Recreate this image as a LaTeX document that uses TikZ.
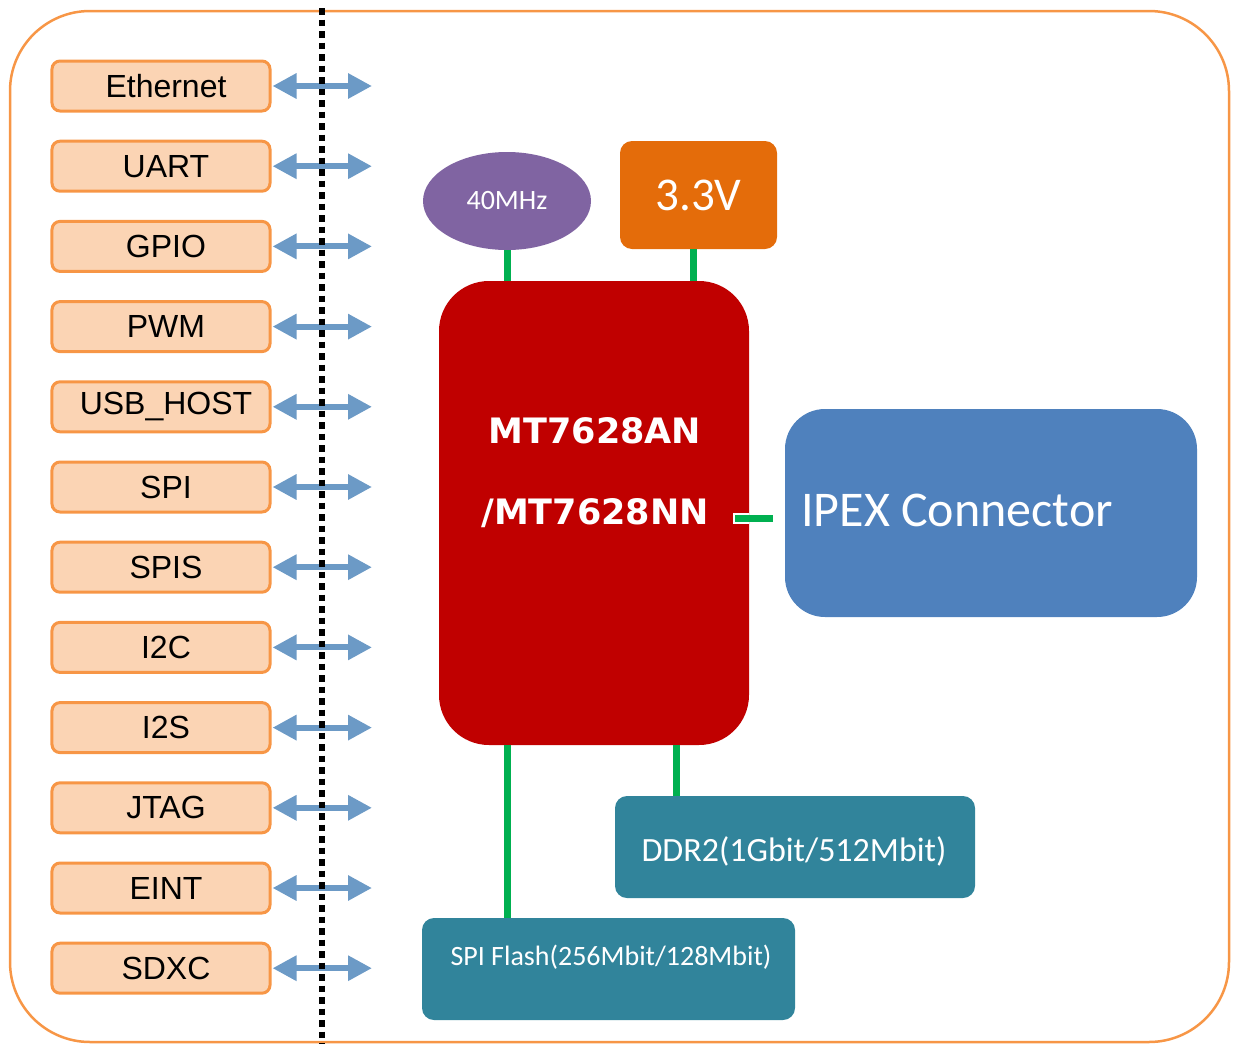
\documentclass[tikz,border=0pt]{standalone}
\usepackage{fontspec}
\setmainfont{Liberation Sans}
\newfontfamily\cali{Carlito}
\newfontfamily\dvs{DejaVu Sans}
\usetikzlibrary{arrows.meta,shapes.geometric}
\definecolor{frameor}{HTML}{F79646}
\definecolor{peach}{HTML}{FBD4B4}
\definecolor{arrblue}{HTML}{6C9AC6}
\definecolor{gline}{HTML}{00B050}
\definecolor{oscpurple}{HTML}{8064A2}
\definecolor{pwrorange}{HTML}{E46C0A}
\definecolor{chipred}{HTML}{C00000}
\definecolor{ipexblue}{HTML}{4F81BD}
\definecolor{memteal}{HTML}{31849B}
\newcommand{\fsz}[1]{\fontsize{#1bp}{#1bp}\selectfont}
\tikzset{
  ifbox/.style={draw=frameor, fill=peach, line width=3bp, rounded corners=8bp,
    minimum width=218bp, minimum height=50bp, inner sep=0pt, font=\fontsize{32bp}{36bp}\selectfont},
  biarrow/.style={draw=arrblue, line width=6bp, {Triangle[length=24bp,width=24bp]}-{Triangle[length=24bp,width=24bp]}, shorten <=1bp},
  gconn/.style={draw=gline, line width=7bp},
  memboxstyle/.style={fill=memteal, rounded corners=12bp, inner sep=0pt, text=white},
}
\begin{document}
\begin{tikzpicture}[x=1bp,y=-1bp]
\useasboundingbox (0,0) rectangle (1233,1044);
% outer frame
\draw[frameor, line width=2.5bp, rounded corners=80bp] (10,11) rectangle (1229,1042);

% interface boxes and arrows
\foreach \lab [count=\i] in {Ethernet,UART,GPIO,PWM,USB\_HOST,SPI,SPIS,I2C,I2S,JTAG,EINT,SDXC}{
  \pgfmathsetmacro{\yy}{86+80.2*(\i-1)}
  \node[ifbox] (if\i) at (161,\yy) {\hspace*{10bp}\lab};
  \coordinate (ae\i) at (372,\yy);
  \draw[biarrow] (if\i.east) -- (ae\i);
}
% dotted separator
\coordinate (dtop) at (322,8);
\coordinate (dbot) at (322,1044);
\draw[black, line width=6.5bp, dash pattern=on 6.5bp off 5bp] (dtop) -- (dbot);

% oscillator
\node[ellipse, fill=oscpurple, minimum width=168bp, minimum height=98bp, inner sep=0pt,
  text=white, font=\cali\fsz{28}] (osc) at (507,201) {40MHz};
% power
\node[fill=pwrorange, rounded corners=12bp, minimum width=157bp, minimum height=108bp,
  inner sep=0pt, text=white, font=\cali\fsz{47}] (pwr) at (698.5,195) {3.3V};
% chip
\node[fill=chipred, rounded corners=50bp, minimum width=310bp, minimum height=464bp, inner sep=0pt] (chip) at (594,513) {};
\node[text=white, align=center, font=\dvs\bfseries\fontsize{35bp}{81bp}\selectfont] (chiptxt) at (595,473) {MT7628AN\\/MT7628NN};
% IPEX
\node[fill=ipexblue, rounded corners=40bp, minimum width=412bp, minimum height=208bp, inner sep=0pt] (ipex) at (991,513) {};
\node[anchor=west, text=white, font=\cali\fsz{50}, inner sep=0pt] (ipextxt) at (801,510) {IPEX Connector};
% memories
\node[memboxstyle, minimum width=360bp, minimum height=102bp] (ddr) at (795,847) {};
\node[text=white, font=\cali\fsz{34}, inner sep=0pt] (ddrtxt) at (794,851) {DDR2(1Gbit/512Mbit)};
\node[memboxstyle, minimum width=373bp, minimum height=102bp] (flash) at (608.5,969) {};
\node[text=white, font=\cali\fsz{28}, inner sep=0pt] (flashtxt) at (611,957) {SPI Flash(256Mbit/128Mbit)};

% green connectors
\draw[gconn] (osc.south) -- (osc.south |- chip.north);
\draw[gconn] ([xshift=-5.5bp]pwr.south) -- ([xshift=-5.5bp]pwr.south |- chip.north);
\draw[gconn] (osc.south |- chip.south) -- (osc.south |- flash.north);
\draw[gconn] ([xshift=-119bp]ddr.north |- chip.south) -- ([xshift=-119bp]ddr.north);
\coordinate (ipa) at (735,518);
\coordinate (ipb) at (773,518);
\draw[white, line width=11bp] ([xshift=-2bp]ipa) -- (chip.east |- ipa);
\draw[gconn] (ipa) -- (ipb);
\end{tikzpicture}
\end{document}
